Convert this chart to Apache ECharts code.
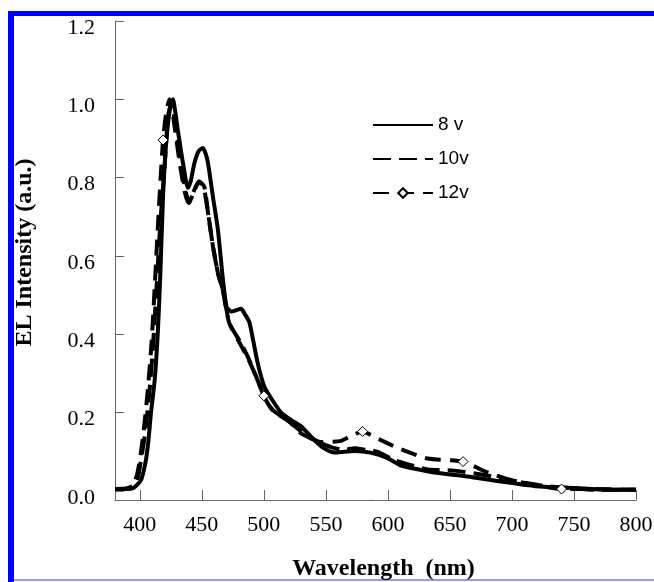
<!DOCTYPE html>
<html>
<head>
<meta charset="utf-8">
<script src="https://cdn.jsdelivr.net/npm/echarts@6/dist/echarts.min.js"></script>
<style>html,body{margin:0;padding:0;background:#fff;}#c{width:654px;height:582px;}</style>
</head>
<body>
<div id="c"></div>
<script>
// ---- Data ----
const seriesNames = ['8 v', '10v', '12v'];
const xTicks = [400, 450, 500, 550, 600, 650, 700, 750, 800];
const yTicks = [0, 0.2, 0.4, 0.6, 0.8, 1.0, 1.2];

const wl8 = [380,390,395,398,401,403,405,407,409,412,414.6,416.5,418.7,421,424,426.7,428.5,430.7,434.8,438.8,441,444,447.5,450.9,453,455,459,463,467,470,474,478,481.7,485,488.4,495,500.4,505.8,513.9,522,530,540.7,548,556.8,565,572.9,586,599.7,610.5,625,637.3,664,691,717.6,744.6,771,800];
const int8 = [0.005,0.005,0.008,0.016,0.028,0.05,0.08,0.13,0.2,0.283,0.41,0.55,0.75,0.878,0.97,1.0,0.97,0.92,0.837,0.774,0.79,0.837,0.868,0.876,0.862,0.837,0.75,0.666,0.54,0.47,0.458,0.462,0.465,0.45,0.43,0.327,0.266,0.237,0.2,0.181,0.165,0.13,0.11,0.098,0.1,0.102,0.098,0.084,0.065,0.055,0.047,0.037,0.024,0.013,0.008,0.004,0.003];

const wl10 = [380,390,395,398.6,401,403.9,407.9,410.6,413.3,416.7,420,422.7,425.4,427,429.4,433.4,437.4,440,444,448,452,455,459,463,467,472.3,481.7,487,493.8,500.4,507,522,530,546,556,564.8,572.9,582,591.7,605,618.5,632,653.4,677.5,701.6,725.8,745,766,800];
const int10 = [0.005,0.006,0.015,0.037,0.08,0.139,0.258,0.368,0.51,0.692,0.828,0.955,0.99,0.97,0.92,0.828,0.76,0.738,0.768,0.79,0.777,0.71,0.624,0.556,0.513,0.428,0.377,0.343,0.292,0.24,0.207,0.173,0.147,0.122,0.11,0.105,0.109,0.105,0.1,0.079,0.066,0.055,0.052,0.041,0.026,0.013,0.008,0.003,0.003];

const wl12 = [380,390,395,398,400.5,403,406.5,409.5,412,415,418.7,421.5,424,426,428.5,432.5,436.5,439.5,443.5,447.5,451.5,455,459,463,467,472,481,487,494,500,507,519,532,546,562,570,579.6,588,597,610,632,660.6,679,699,723,740,760,800];
const int12 = [0.005,0.007,0.018,0.045,0.09,0.15,0.26,0.38,0.52,0.7,0.896,0.97,1.0,0.975,0.92,0.83,0.76,0.735,0.765,0.79,0.775,0.71,0.624,0.556,0.51,0.43,0.375,0.34,0.29,0.243,0.207,0.181,0.148,0.125,0.128,0.14,0.152,0.14,0.126,0.107,0.083,0.075,0.049,0.028,0.013,0.005,0.005,0.003];
const markers12 = [418.7, 500, 579.6, 660.6, 740];

// ---- Build ----
const pairs = (xs, ys) => xs.map((x, i) => [x, ys[i]]);
const data12 = wl12.map((x, i) => markers12.includes(x)
  ? { value: [x, int12[i]] }
  : { value: [x, int12[i]], symbol: 'none' });

const serif = "'Liberation Serif', 'Times New Roman', serif";
const sans = "'Liberation Sans', Arial, sans-serif";
const hiddenMark = { color: 'rgba(0,0,0,0)', borderColor: 'rgba(0,0,0,0)', borderWidth: 0 };

const chart = echarts.init(document.getElementById('c'), null, { renderer: 'canvas' });
chart.setOption({
  animation: false,
  backgroundColor: '#fff',
  grid: { left: 115, right: 18, top: 21, bottom: 82, containLabel: false, outerBoundsMode: 'none' },
  legend: {
    orient: 'vertical', left: 367, top: 110,
    itemWidth: 60, itemHeight: 12, itemGap: 14,
    textStyle: { fontFamily: sans, fontSize: 19, color: '#000', lineHeight: 20 },
    data: [
      { name: seriesNames[0], itemStyle: hiddenMark },
      { name: seriesNames[1], itemStyle: hiddenMark },
      { name: seriesNames[2] }
    ]
  },
  xAxis: {
    type: 'value', min: 380, max: 800,
    name: 'Wavelength  (nm)', nameLocation: 'middle', nameGap: 57,
    nameTextStyle: { fontFamily: serif, fontWeight: 'bold', fontSize: 24, color: '#000', padding: [0, 0, 0, 16] },
    axisLine: { onZero: false, lineStyle: { color: '#666', width: 1 } },
    axisTick: { inside: true, length: 10, customValues: xTicks, lineStyle: { color: '#666' } },
    axisLabel: { customValues: xTicks, margin: 14, fontFamily: serif, fontSize: 22, color: '#000' },
    splitLine: { show: false }
  },
  yAxis: {
    type: 'value', min: -0.023, max: 1.2,
    name: 'EL Intensity (a.u.)', nameLocation: 'middle', nameGap: 78,
    nameTextStyle: { fontFamily: serif, fontWeight: 'bold', fontSize: 24, color: '#000', padding: [0, 0, 0, 16] },
    axisLine: { show: true, onZero: false, lineStyle: { color: '#666', width: 1 } },
    axisTick: { show: true, inside: true, length: 9, customValues: yTicks, lineStyle: { color: '#666' } },
    axisLabel: { customValues: yTicks, margin: 20, fontFamily: serif, fontSize: 22, color: '#000',
      verticalAlign: 'top', lineHeight: 14, formatter: v => v.toFixed(1) },
    splitLine: { show: false }
  },
  series: [
    { name: seriesNames[0], type: 'line', data: pairs(wl8, int8), showSymbol: false, symbol: 'none',
      smooth: 0.2, lineStyle: { color: '#000', width: 4 }, itemStyle: { color: '#000' } },
    { name: seriesNames[1], type: 'line', data: pairs(wl10, int10), showSymbol: false, symbol: 'none',
      smooth: 0.2, lineStyle: { color: '#000', width: 4, type: [18, 8] }, itemStyle: { color: '#000' } },
    { name: seriesNames[2], type: 'line', data: data12, symbol: 'diamond', symbolSize: 10, showSymbol: true,
      smooth: 0.2, lineStyle: { color: '#000', width: 4, type: [16, 9] },
      itemStyle: { color: '#fff', borderColor: '#000', borderWidth: 1 } }
  ],
  graphic: [
    { type: 'rect', shape: { x: 8, y: 11, width: 646, height: 5 }, style: { fill: '#0000ff' }, silent: true },
    { type: 'rect', shape: { x: 8, y: 11, width: 6, height: 571 }, style: { fill: '#0000ff' }, silent: true },
    { type: 'rect', shape: { x: 14, y: 579, width: 640, height: 2 }, style: { fill: '#9999ff' }, silent: true }
  ]
});
</script>
</body>
</html>
